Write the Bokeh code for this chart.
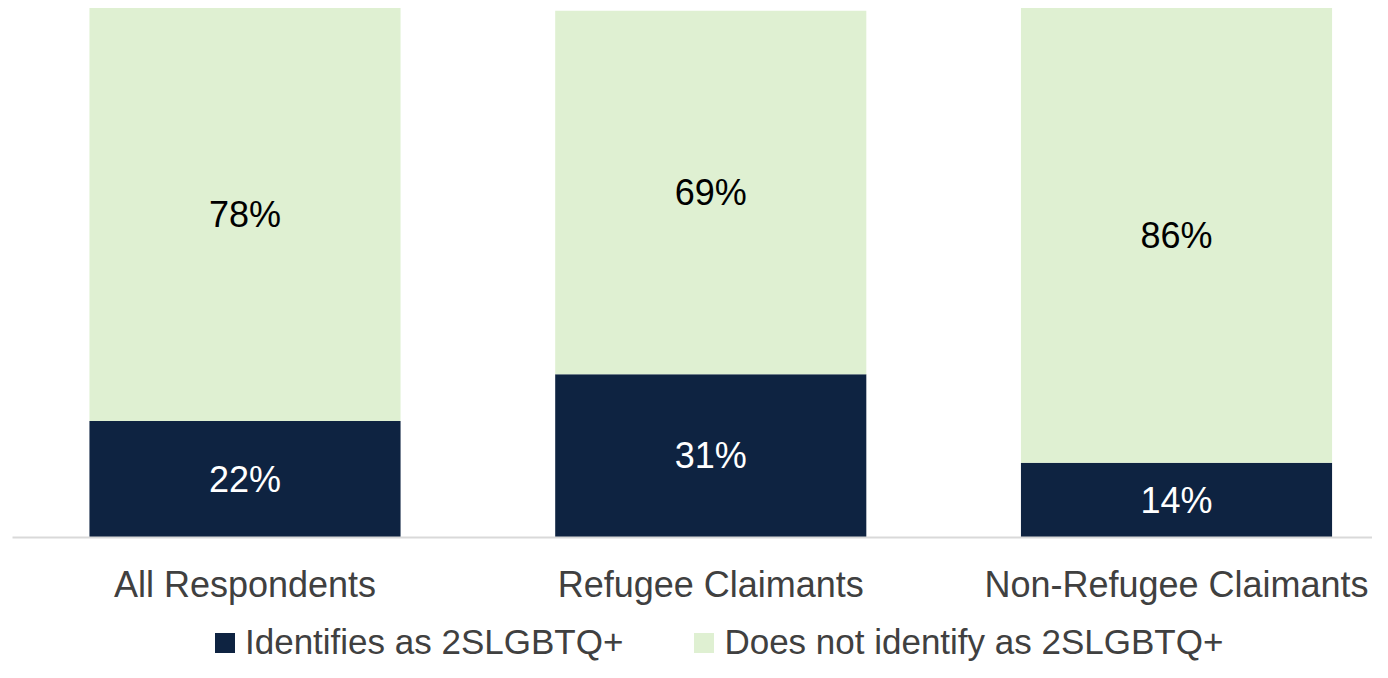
from bokeh.plotting import figure
from bokeh.layouts import column
from bokeh.models import ColumnDataSource, Range1d, FixedTicker, Legend, LegendItem, LabelSet
from bokeh.core.properties import value
from bokeh.embed import file_html
from bokeh.resources import INLINE

categories = ["All Respondents", "Refugee Claimants", "Non-Refugee Claimants"]
identifies = [22.0, 30.8, 14.1]
does_not = [77.9, 68.6, 85.8]
series_names = ["Identifies as 2SLGBTQ+", "Does not identify as 2SLGBTQ+"]

DARK = "#0E2341"
LIGHT = "#DFF0D2"
FONT = "Liberation Sans"

xs = list(range(len(categories)))
source = ColumnDataSource(dict(
    x=xs,
    yes=identifies,
    no=does_not,
))

X_RANGE = (-0.4992, 2.4208)

p = figure(width=1372, height=607, output_backend="svg", toolbar_location=None,
           x_range=Range1d(*X_RANGE), y_range=Range1d(0, 100),
           min_border_left=12, min_border_right=0, min_border_top=7, min_border_bottom=70)
p.outline_line_color = None
p.xgrid.visible = False
p.ygrid.visible = False
p.yaxis.visible = False

rs = p.vbar_stack(["yes", "no"], x="x", width=0.668, source=source,
                  color=[DARK, LIGHT], line_color=None)

# value labels
lab_src = ColumnDataSource(dict(
    x=xs + xs,
    y=[v / 2 for v in identifies] + [a + b / 2 for a, b in zip(identifies, does_not)],
    t=[f"{round(v)}%" for v in identifies] + [f"{round(v)}%" for v in does_not],
    c=["white"] * len(xs) + ["black"] * len(xs),
))
labels = LabelSet(x="x", y="y", text="t", source=lab_src, text_color="c",
                  text_align="center", text_baseline="middle",
                  text_font=value(FONT), text_font_size="36px")
p.add_layout(labels)

ax = p.xaxis[0]
ax.ticker = FixedTicker(ticks=xs)
ax.major_label_overrides = {i: c for i, c in enumerate(categories)}
ax.major_tick_line_color = None
ax.minor_tick_line_color = None
ax.axis_line_color = "#D9D9D9"
ax.axis_line_width = 2
ax.major_label_standoff = 20
ax.major_label_text_font = FONT
ax.major_label_text_font_size = "36px"
ax.major_label_text_color = "#404040"

# legend strip below the chart (same series, drawn far outside its visible ranges)
pl = figure(width=1372, height=55, output_backend="svg", toolbar_location=None,
            x_range=Range1d(10, 11), y_range=Range1d(1000, 1001), min_border=0)
pl.outline_line_color = None
pl.axis.visible = False
pl.grid.visible = False
ks = pl.vbar_stack(["yes", "no"], x="x", width=0.668, source=source,
                   color=[DARK, LIGHT], line_color=None)

legend = Legend(items=[LegendItem(label=series_names[0], renderers=[ks[0]]),
                       LegendItem(label=series_names[1], renderers=[ks[1]])],
                orientation="horizontal", location=(200, 0),
                label_text_font=FONT, label_text_font_size="35px",
                label_text_color="#404040", glyph_width=25, glyph_height=25,
                label_standoff=8, spacing=68, border_line_color=None,
                background_fill_alpha=0, margin=0, padding=0)
pl.add_layout(legend, "center")

layout = column(p, pl, spacing=0)
open("out.html", "w").write(file_html(layout, INLINE))
